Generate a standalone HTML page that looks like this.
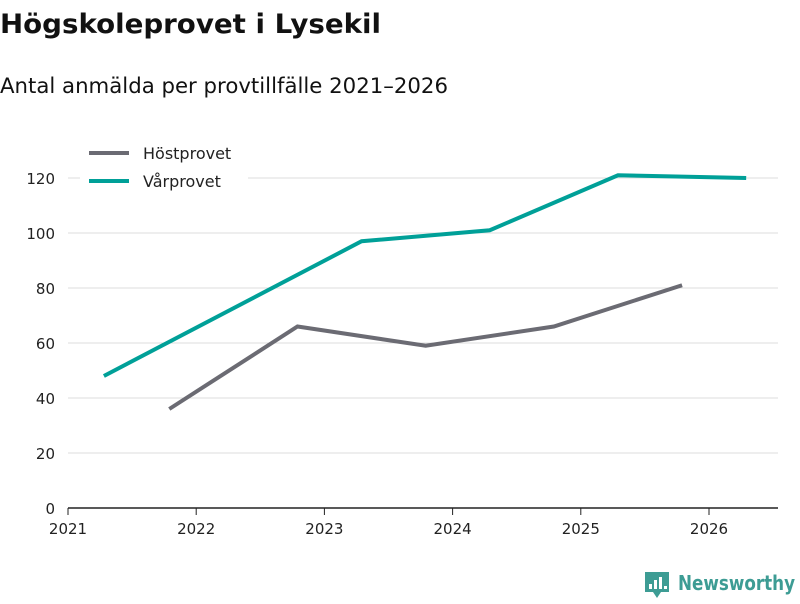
<!DOCTYPE html>
<html><head><meta charset="utf-8"><style>
body{margin:0;width:800px;height:600px;background:#fff;overflow:hidden;font-family:"DejaVu Sans","Liberation Sans",sans-serif;}
</style></head><body>
<svg width="800" height="600" id="c">
<text x="0" y="33" font-size="27" font-weight="bold" fill="#111" textLength="381" lengthAdjust="spacingAndGlyphs">Högskoleprovet i Lysekil</text>
<text x="0" y="93" font-size="21" fill="#111" textLength="448" lengthAdjust="spacingAndGlyphs">Antal anmälda per provtillfälle 2021–2026</text>
<g id="grid"></g><g id="lines"></g>
<g>
<rect x="80" y="140" width="168" height="56" fill="#fff"/>
<line x1="89" y1="153" x2="129" y2="153" stroke="#6b6b73" stroke-width="4"/>
<text x="143" y="159" font-size="16" fill="#222">Höstprovet</text>
<line x1="89" y1="181" x2="129" y2="181" stroke="#00a098" stroke-width="4"/>
<text x="143" y="187" font-size="16" fill="#222">Vårprovet</text>
</g>
<g>
<path d="M645 572h24v20h-8l-4 6l-4-6h-8z" fill="#3d9c94"/>
<rect x="649" y="584" width="3" height="5" fill="#fff"/><rect x="654" y="580" width="3" height="9" fill="#fff"/><rect x="659" y="577" width="3" height="12" fill="#fff"/><rect x="664" y="586" width="3" height="3" fill="#fff"/>
<text x="678" y="590" font-size="20" font-weight="bold" fill="#3d9c94" textLength="117" lengthAdjust="spacingAndGlyphs">Newsworthy</text>
</g>
</svg>
<script>
const years=[2021,2022,2023,2024,2025,2026];
const yTicks=[0,20,40,60,80,100,120];
const hostX=[2021.79,2022.79,2023.79,2024.79,2025.79];
const hostV=[36,66,59,66,81];
const varX=[2021.28,2023.29,2024.29,2025.29,2026.29];
const varV=[48,97,101,121,120];
const NS="http://www.w3.org/2000/svg";
const sx=v=>68+(v-2021)*128.2, sy=v=>508-v*2.75;
function mk(t,a,p){const e=document.createElementNS(NS,t);for(const k in a)e.setAttribute(k,a[k]);p.appendChild(e);return e;}
const g=document.getElementById('grid'),L=document.getElementById('lines');
yTicks.forEach(v=>{
 if(v>0){const l=mk('line',{x1:68,x2:778,y1:sy(v),y2:sy(v),stroke:'#ddd','stroke-width':1},g);
 
 }
 const t=mk('text',{x:55,y:sy(v)+6,'text-anchor':'end','font-size':15,fill:'#222'},g);t.textContent=v;
 
 
});
const ax=mk('line',{x1:68,x2:778,y1:508,y2:508,stroke:'#222','stroke-width':1.5},g);


years.forEach(y=>{
 mk('line',{x1:sx(y),x2:sx(y),y1:508,y2:515,stroke:'#222'},g);
 const t=mk('text',{x:sx(y),y:534,'text-anchor':'middle','font-size':15,fill:'#222'},g);t.textContent=y;
 
 
});
function line(xs,vs,c,n){const p=mk('polyline',{points:xs.map((x,i)=>sx(x)+','+sy(vs[i])).join(' '),fill:'none',stroke:c,'stroke-width':4},L);
 
 }
line(hostX,hostV,'#6b6b73','line-hostprovet');
line(varX,varV,'#00a098','line-varprovet');
</script>
</body></html>
